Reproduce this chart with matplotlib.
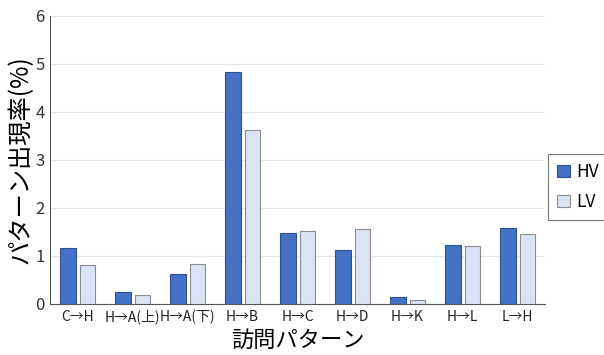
import matplotlib
matplotlib.use("Agg")
import matplotlib.pyplot as plt
import numpy as np

plt.rcParams['font.family'] = ['Noto Sans CJK JP', 'DejaVu Sans']

categories = ["C→H", "H→A(上)", "H→A(下)", "H→B", "H→C", "H→D", "H→K", "H→L", "L→H"]
hv = [1.17, 0.25, 0.63, 4.83, 1.48, 1.13, 0.15, 1.23, 1.58]
lv = [0.81, 0.19, 0.83, 3.63, 1.52, 1.56, 0.08, 1.21, 1.46]
yticks = [0, 1, 2, 3, 4, 5, 6]

fig = plt.figure(figsize=(6.04, 3.55), dpi=100)
ax = fig.add_axes([50/604, 1-304/355, 495/604, 288/355])
x = np.arange(len(categories))
w = 0.28
ax.bar(x - 0.17, hv, w, color="#4472C4", edgecolor="#2F528F", linewidth=0.8, label="HV", zorder=3)
ax.bar(x + 0.18, lv, w, color="#DAE3F3", edgecolor="#8C8C8C", linewidth=0.8, label="LV", zorder=3)
ax.set_xlim(-0.5, len(categories) - 0.5)
ax.set_ylim(0, 6)
ax.set_yticks(yticks)
ax.set_yticklabels([str(t) for t in yticks], fontsize=12, color="#333333")
ax.set_xticks(x)
ax.set_xticklabels(categories, fontsize=10, color="#222222")
ax.tick_params(length=0, pad=4)
ax.grid(axis='y', color="#E6E6E6", linewidth=0.8, zorder=0)
for s in ["top", "right"]:
    ax.spines[s].set_visible(False)
for s in ["left", "bottom"]:
    ax.spines[s].set_color("#555555")
    ax.spines[s].set_linewidth(0.8)
ax.set_ylabel("パターン出現率(%)", fontsize=17.5, labelpad=1)
ax.set_xlabel("訪問パターン", fontsize=16, labelpad=3)
leg = ax.legend(loc="center left", fontsize=12.5, frameon=True, fancybox=False, edgecolor="#555555",
                handlelength=0.75, handleheight=0.75, handletextpad=0.35, borderpad=0.5,
                labelspacing=0.7, borderaxespad=0)
leg.set_bbox_to_anchor((548/604, 1 - 187/355), transform=fig.transFigure)
leg.get_frame().set_linewidth(0.8)
fig.savefig("out.png", dpi=100)
